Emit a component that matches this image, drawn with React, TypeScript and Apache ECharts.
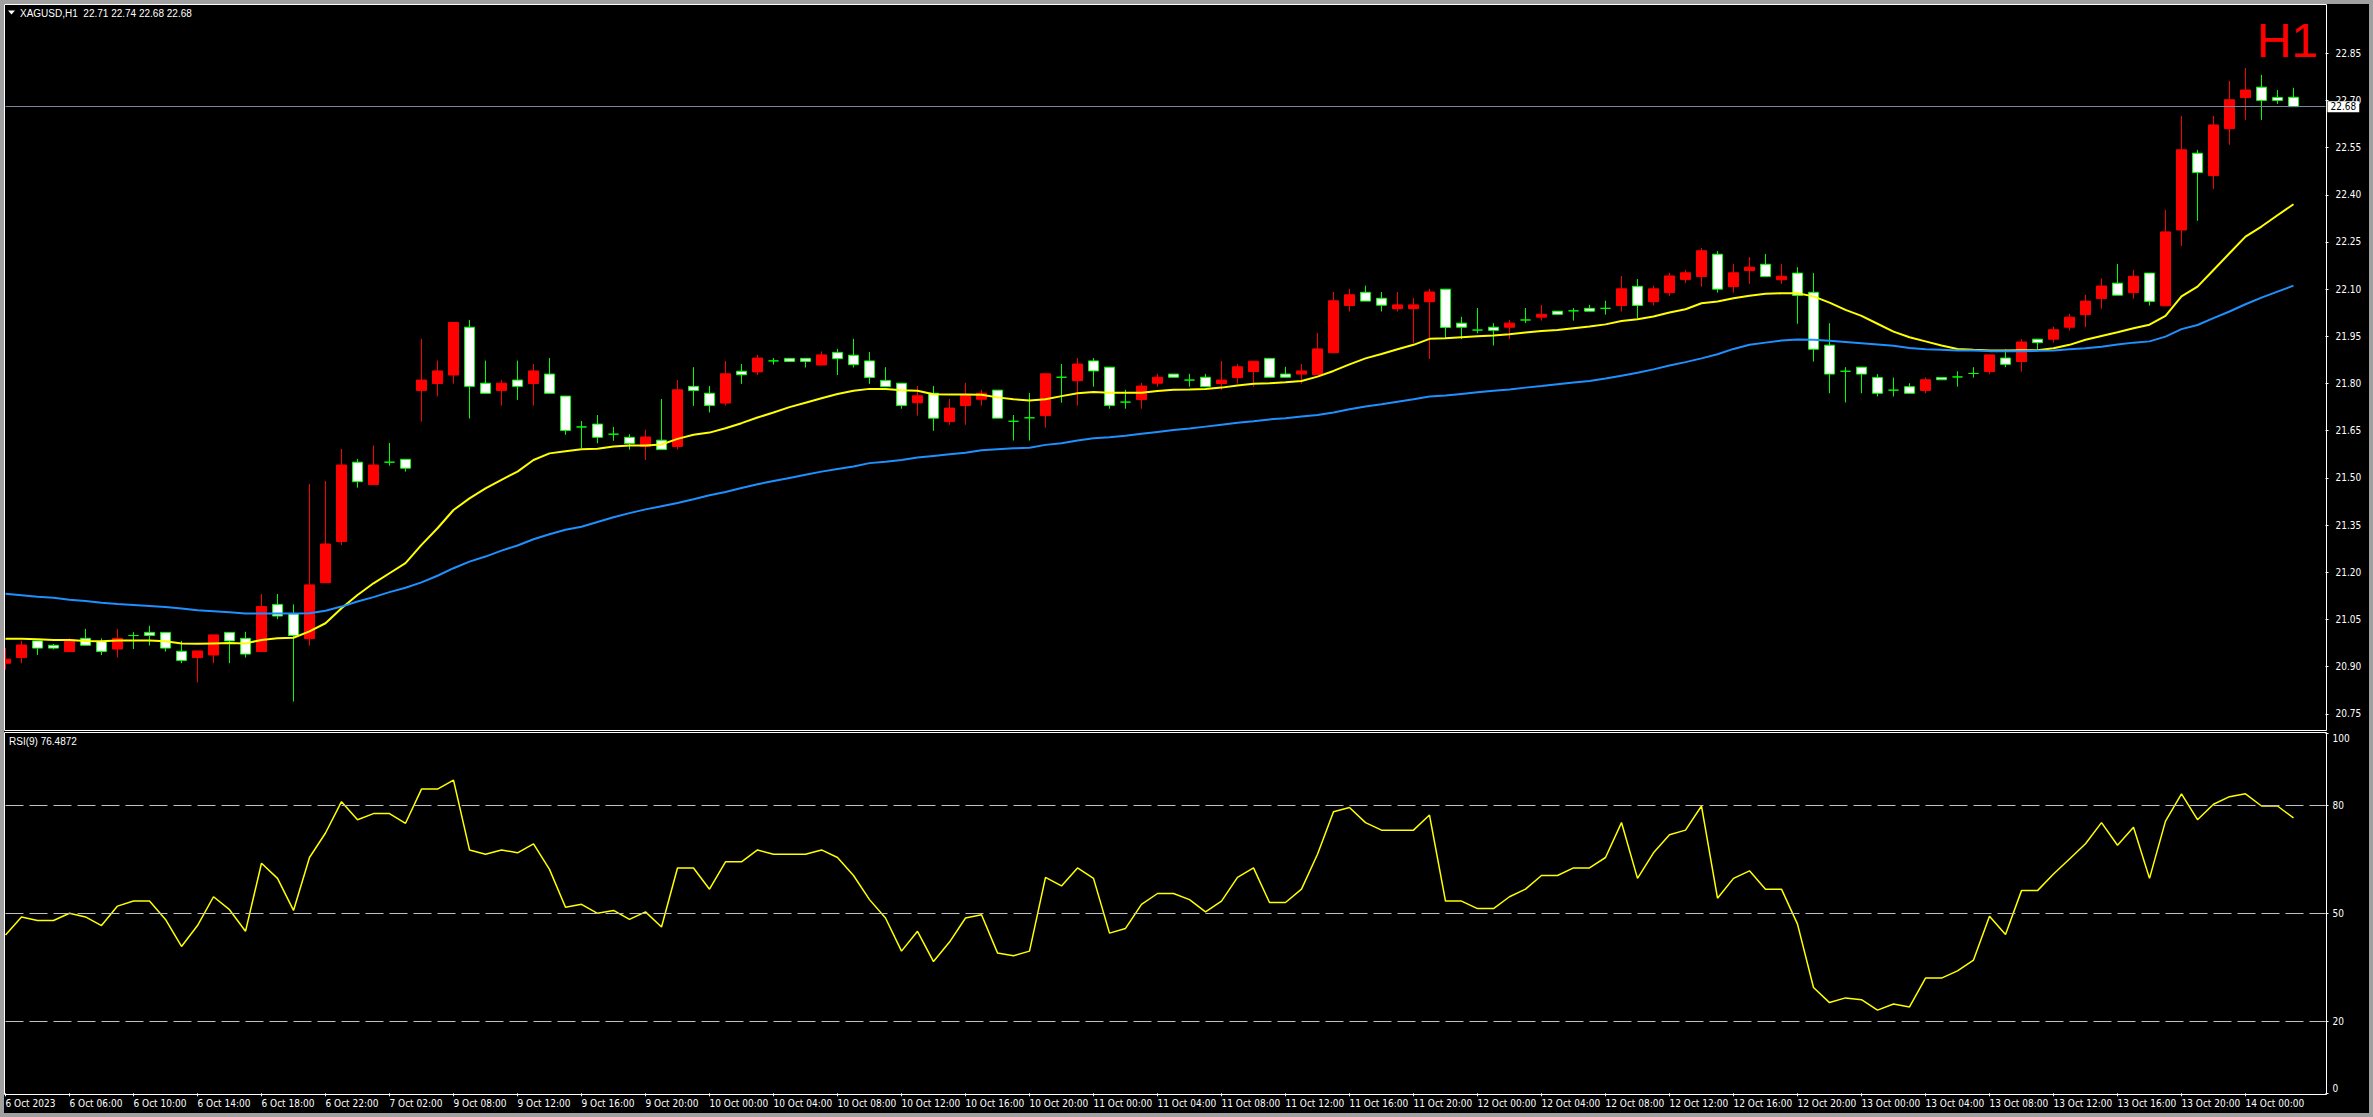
import React, { useEffect, useRef } from "react";
import * as echarts from "echarts";

// ---------- data ----------
const timeLabels = [
  "6 Oct 2023", "6 Oct 06:00", "6 Oct 10:00", "6 Oct 14:00", "6 Oct 18:00", "6 Oct 22:00",
  "7 Oct 02:00", "9 Oct 08:00", "9 Oct 12:00", "9 Oct 16:00", "9 Oct 20:00",
  "10 Oct 00:00", "10 Oct 04:00", "10 Oct 08:00", "10 Oct 12:00", "10 Oct 16:00", "10 Oct 20:00",
  "11 Oct 00:00", "11 Oct 04:00", "11 Oct 08:00", "11 Oct 12:00", "11 Oct 16:00", "11 Oct 20:00",
  "12 Oct 00:00", "12 Oct 04:00", "12 Oct 08:00", "12 Oct 12:00", "12 Oct 16:00", "12 Oct 20:00",
  "13 Oct 00:00", "13 Oct 04:00", "13 Oct 08:00", "13 Oct 12:00", "13 Oct 16:00", "13 Oct 20:00",
  "14 Oct 00:00",
];

const opens = [
  20.911, 20.929, 20.982, 20.968, 20.948, 20.990, 20.980, 20.956, 20.999, 21.009,
  21.009, 20.949, 20.929, 20.937, 21.009, 20.990, 20.948, 21.098, 21.068, 20.989,
  21.167, 21.298, 21.550, 21.479, 21.550, 21.559, 21.778, 21.800, 21.827, 21.979,
  21.801, 21.778, 21.811, 21.800, 21.830, 21.760, 21.662, 21.671, 21.639, 21.629,
  21.600, 21.620, 21.600, 21.791, 21.769, 21.738, 21.839, 21.837, 21.872, 21.880,
  21.880, 21.859, 21.899, 21.890, 21.872, 21.810, 21.801, 21.739, 21.769, 21.679,
  21.730, 21.750, 21.779, 21.680, 21.691, 21.698, 21.820, 21.809, 21.872, 21.852,
  21.741, 21.749, 21.801, 21.830, 21.811, 21.820, 21.800, 21.819, 21.838, 21.880,
  21.830, 21.830, 21.828, 21.898, 22.048, 22.090, 22.071, 22.038, 22.038, 22.060,
  22.100, 21.992, 21.970, 21.979, 21.979, 22.002, 22.011, 22.030, 22.031, 22.039,
  22.039, 22.048, 22.109, 22.060, 22.089, 22.131, 22.140, 22.211, 22.108, 22.159,
  22.179, 22.130, 22.151, 22.090, 21.922, 21.839, 21.852, 21.819, 21.779, 21.790,
  21.778, 21.819, 21.821, 21.832, 21.838, 21.881, 21.870, 21.941, 21.941, 21.979,
  22.019, 22.070, 22.119, 22.089, 22.151, 22.047, 22.288, 22.532, 22.461, 22.610,
  22.709, 22.742, 22.709, 22.71,
];

const highs = [
  20.959, 20.982, 20.982, 20.972, 20.990, 21.020, 20.990, 21.020, 21.010, 21.030,
  21.009, 20.982, 20.950, 21.001, 21.009, 21.011, 21.131, 21.131, 21.098, 21.481,
  21.490, 21.592, 21.560, 21.603, 21.611, 21.559, 21.942, 21.873, 21.994, 22.002,
  21.873, 21.811, 21.873, 21.862, 21.881, 21.760, 21.681, 21.700, 21.662, 21.639,
  21.653, 21.751, 21.811, 21.852, 21.792, 21.872, 21.862, 21.891, 21.881, 21.880,
  21.880, 21.902, 21.910, 21.942, 21.900, 21.852, 21.801, 21.792, 21.792, 21.751,
  21.802, 21.780, 21.779, 21.700, 21.770, 21.831, 21.862, 21.881, 21.881, 21.852,
  21.780, 21.802, 21.831, 21.830, 21.831, 21.831, 21.872, 21.862, 21.871, 21.880,
  21.853, 21.862, 21.961, 22.091, 22.101, 22.111, 22.091, 22.091, 22.072, 22.101,
  22.100, 22.012, 22.040, 21.992, 22.002, 22.040, 22.050, 22.030, 22.040, 22.050,
  22.063, 22.142, 22.132, 22.111, 22.152, 22.161, 22.231, 22.221, 22.180, 22.202,
  22.212, 22.180, 22.170, 22.151, 21.992, 21.852, 21.852, 21.830, 21.819, 21.801,
  21.819, 21.819, 21.839, 21.852, 21.891, 21.909, 21.941, 21.941, 21.981, 22.021,
  22.082, 22.134, 22.180, 22.161, 22.151, 22.352, 22.651, 22.543, 22.651, 22.762,
  22.803, 22.781, 22.733, 22.74,
];

const lows = [
  20.890, 20.911, 20.937, 20.955, 20.948, 20.968, 20.937, 20.929, 20.956, 20.967,
  20.948, 20.911, 20.850, 20.911, 20.911, 20.929, 20.948, 21.051, 20.789, 20.967,
  21.167, 21.287, 21.469, 21.479, 21.539, 21.520, 21.679, 21.759, 21.800, 21.689,
  21.769, 21.730, 21.748, 21.730, 21.769, 21.637, 21.594, 21.610, 21.618, 21.590,
  21.557, 21.590, 21.590, 21.729, 21.708, 21.730, 21.799, 21.827, 21.860, 21.870,
  21.851, 21.859, 21.827, 21.851, 21.799, 21.790, 21.720, 21.698, 21.650, 21.669,
  21.669, 21.730, 21.690, 21.619, 21.619, 21.660, 21.739, 21.730, 21.790, 21.720,
  21.720, 21.720, 21.790, 21.820, 21.790, 21.790, 21.780, 21.800, 21.790, 21.820,
  21.820, 21.800, 21.828, 21.898, 22.029, 22.062, 22.029, 22.029, 21.928, 21.878,
  21.944, 21.941, 21.960, 21.921, 21.941, 21.992, 22.000, 22.020, 22.000, 22.030,
  22.019, 22.029, 22.008, 22.048, 22.079, 22.119, 22.108, 22.089, 22.089, 22.117,
  22.140, 22.117, 21.990, 21.870, 21.769, 21.740, 21.769, 21.759, 21.759, 21.769,
  21.769, 21.812, 21.790, 21.819, 21.830, 21.852, 21.838, 21.907, 21.930, 21.968,
  21.979, 22.038, 22.081, 22.070, 22.048, 22.047, 22.237, 22.317, 22.419, 22.559,
  22.638, 22.638, 22.689, 22.68,
];

const closes = [
  20.924, 20.969, 20.959, 20.959, 20.985, 20.968, 20.948, 20.990, 20.999, 20.999,
  20.959, 20.920, 20.950, 21.001, 20.982, 20.940, 21.091, 21.061, 20.999, 21.160,
  21.290, 21.541, 21.488, 21.541, 21.550, 21.531, 21.811, 21.840, 21.994, 21.791,
  21.769, 21.801, 21.791, 21.840, 21.769, 21.651, 21.662, 21.629, 21.639, 21.609,
  21.630, 21.590, 21.780, 21.778, 21.730, 21.831, 21.828, 21.881, 21.872, 21.870,
  21.870, 21.891, 21.879, 21.860, 21.819, 21.790, 21.730, 21.761, 21.690, 21.722,
  21.763, 21.769, 21.690, 21.680, 21.691, 21.831, 21.820, 21.862, 21.840, 21.730,
  21.741, 21.792, 21.820, 21.820, 21.811, 21.790, 21.811, 21.853, 21.871, 21.820,
  21.820, 21.840, 21.910, 22.063, 22.082, 22.062, 22.049, 22.050, 22.050, 22.091,
  21.978, 21.979, 21.970, 21.969, 21.992, 22.002, 22.020, 22.020, 22.031, 22.030,
  22.039, 22.101, 22.048, 22.101, 22.142, 22.152, 22.222, 22.100, 22.152, 22.170,
  22.140, 22.141, 22.080, 21.909, 21.830, 21.839, 21.830, 21.769, 21.779, 21.769,
  21.812, 21.812, 21.821, 21.832, 21.891, 21.861, 21.932, 21.930, 21.971, 22.011,
  22.062, 22.110, 22.081, 22.141, 22.061, 22.282, 22.543, 22.471, 22.622, 22.702,
  22.733, 22.700, 22.700, 22.68,
];

const maFast = [
  20.989, 20.989, 20.987, 20.985, 20.985, 20.982, 20.981, 20.983, 20.983, 20.983,
  20.981, 20.974, 20.973, 20.974, 20.975, 20.974, 20.985, 20.990, 20.992, 21.012,
  21.038, 21.086, 21.128, 21.165, 21.197, 21.229, 21.287, 21.340, 21.398, 21.435,
  21.467, 21.494, 21.520, 21.557, 21.578, 21.585, 21.591, 21.593, 21.600, 21.603,
  21.603, 21.606, 21.624, 21.637, 21.644, 21.658, 21.674, 21.692, 21.708, 21.725,
  21.739, 21.753, 21.767, 21.777, 21.783, 21.783, 21.779, 21.777, 21.766, 21.765,
  21.765, 21.764, 21.756, 21.750, 21.746, 21.750, 21.760, 21.769, 21.773, 21.771,
  21.771, 21.771, 21.776, 21.780, 21.781, 21.783, 21.787, 21.794, 21.799, 21.801,
  21.804, 21.808, 21.822, 21.840, 21.861, 21.880, 21.894, 21.909, 21.923, 21.942,
  21.944, 21.947, 21.950, 21.953, 21.957, 21.962, 21.967, 21.970, 21.976, 21.981,
  21.988, 21.999, 22.004, 22.013, 22.026, 22.036, 22.055, 22.061, 22.071, 22.079,
  22.085, 22.087, 22.087, 22.077, 22.057, 22.034, 22.015, 21.990, 21.965, 21.947,
  21.934, 21.921, 21.910, 21.907, 21.905, 21.905, 21.906, 21.906, 21.912, 21.923,
  21.939, 21.951, 21.963, 21.976, 21.987, 22.015, 22.077, 22.108, 22.161, 22.214,
  22.267, 22.299, 22.335, 22.370,
];

const maSlow = [
  21.132, 21.127, 21.122, 21.119, 21.113, 21.109, 21.103, 21.099, 21.096, 21.093,
  21.090, 21.085, 21.079, 21.076, 21.073, 21.069, 21.069, 21.069, 21.069, 21.070,
  21.078, 21.091, 21.107, 21.121, 21.137, 21.151, 21.168, 21.189, 21.213, 21.234,
  21.250, 21.269, 21.285, 21.305, 21.321, 21.335, 21.345, 21.360, 21.375, 21.388,
  21.400, 21.410, 21.420, 21.432, 21.445, 21.455, 21.468, 21.480, 21.490, 21.500,
  21.510, 21.520, 21.528, 21.536, 21.547, 21.551, 21.557, 21.565, 21.570, 21.575,
  21.580, 21.588, 21.591, 21.594, 21.596, 21.605, 21.610, 21.619, 21.626, 21.629,
  21.634, 21.640, 21.646, 21.652, 21.657, 21.663, 21.669, 21.675, 21.680, 21.686,
  21.690, 21.695, 21.700, 21.708, 21.718, 21.727, 21.734, 21.742, 21.750, 21.759,
  21.762, 21.767, 21.772, 21.777, 21.781, 21.787, 21.792, 21.798, 21.803, 21.808,
  21.816, 21.825, 21.834, 21.845, 21.857, 21.868, 21.880, 21.893, 21.910, 21.923,
  21.930, 21.937, 21.940, 21.939, 21.936, 21.932, 21.928, 21.924, 21.920, 21.913,
  21.909, 21.907, 21.905, 21.905, 21.903, 21.903, 21.903, 21.904, 21.905, 21.909,
  21.912, 21.917, 21.924, 21.930, 21.934, 21.949, 21.973, 21.986, 22.008, 22.029,
  22.052, 22.073, 22.092, 22.111,
];

const rsi9 = [
  44, 49, 48, 48, 50, 49, 46.6, 52, 53.4, 53.4,
  48.3, 40.8, 46.6, 54.6, 51, 45, 63.9, 59.7, 50.8, 65.5,
  72.3, 81, 76, 77.7, 77.7, 75, 84.5, 84.5, 87, 67.6,
  66.4, 67.6, 66.8, 69.3, 62.2, 51.7, 52.5, 50, 50.8, 48.3,
  50.4, 46.2, 62.6, 62.6, 56.7, 64.3, 64.3, 67.6, 66.4, 66.4,
  66.4, 67.6, 65.5, 60.5, 53.8, 48.7, 39.5, 45, 36.6, 42,
  48.7, 49.6, 39, 38.2, 39.5, 60, 57.6, 62.6, 59.7, 44.5,
  45.8, 52.5, 55.5, 55.5, 53.8, 50.4, 53.4, 60, 62.6, 53,
  53, 56.7, 66.4, 78.2, 79.4, 75.2, 73.1, 73.1, 73.1, 77.3,
  53.4, 53.4, 51.3, 51.3, 54.6, 56.7, 60.5, 60.5, 62.6, 62.6,
  65.5, 75.2, 59.7, 66.8, 71.8, 73.1, 79.8, 54.2, 59.7, 61.8,
  56.7, 56.7, 47, 29.4, 25.2, 26.5, 26, 23.1, 24.8, 24,
  32, 32, 34, 37, 49.2, 44.1, 56.3, 56.3, 60.9, 65.1,
  69.3, 75.2, 68.9, 73.9, 59.7, 75.6, 83.2, 76, 80.3, 82.4,
  83.2, 79.8, 79.8, 76.4872,
];

const priceTicks = [
  20.75, 20.9, 21.05, 21.2, 21.35, 21.5, 21.65, 21.8, 21.95, 22.1, 22.25, 22.4, 22.55, 22.7, 22.85,
];
const rsiTicks = [0, 20, 50, 80, 100];
const rsiLevels = [20, 50, 80];

// ---------- layout ----------
const W = 2373;
const H = 1117;
const SLOTS = 146; // bars + empty chart shift on the right
const AXIS_FONT = "'Liberation Sans Narrow', 'DejaVu Sans Condensed', 'Liberation Sans', sans-serif";
const TEXT_FONT = "'Liberation Sans', Arial, sans-serif";

function buildOption() {
  const cats = Array.from({ length: SLOTS }, (_, i) => String(i));
  const candleData = opens.map((o, i) => [o, closes[i], lows[i], highs[i]]);
  const last = opens.length - 1;
  const header = `XAGUSD,H1  ${opens[last].toFixed(2)} ${highs[last].toFixed(2)} ${lows[last].toFixed(2)} ${closes[last].toFixed(2)}`;
  const showEvery4 = (i: number) => i % 4 === 0 && i / 4 < timeLabels.length;

  return {
    animation: false,
    backgroundColor: "#000000",
    grid: [
      { left: 5.5, right: W - 2325.5, top: 6, height: 723.6, show: false },
      { left: 5.5, right: W - 2325.5, top: 733.3, height: 360, show: false },
    ],
    xAxis: [
      { type: "category", gridIndex: 0, data: cats, boundaryGap: false, show: false },
      {
        type: "category",
        gridIndex: 1,
        data: cats,
        boundaryGap: false,
        axisLine: { show: false },
        splitLine: { show: false },
        axisTick: { show: true, interval: showEvery4, length: 3, lineStyle: { color: "#ffffff" } },
        axisLabel: {
          interval: showEvery4,
          formatter: (_v: string, i: number) => timeLabels[i / 4] ?? "",
          align: "left",
          color: "#ffffff",
          fontSize: 10,
          fontFamily: AXIS_FONT,
          margin: 5,
        },
      },
    ],
    yAxis: [
      {
        type: "value",
        gridIndex: 0,
        position: "right",
        min: 20.7,
        max: 23.0,
        scale: true,
        axisLine: { show: false },
        splitLine: { show: false },
        axisTick: { show: true, customValues: priceTicks, length: 3, lineStyle: { color: "#ffffff" } },
        axisLabel: {
          customValues: priceTicks,
          formatter: (v: number) => v.toFixed(2),
          color: "#ffffff",
          fontSize: 10,
          fontFamily: AXIS_FONT,
          margin: 10,
        },
      },
      {
        type: "value",
        gridIndex: 1,
        position: "right",
        min: 0,
        max: 100,
        axisLine: { show: false },
        splitLine: { show: false },
        axisTick: { show: true, customValues: rsiTicks, length: 3, lineStyle: { color: "#ffffff" } },
        axisLabel: {
          customValues: rsiTicks,
          color: "#ffffff",
          fontSize: 10,
          fontFamily: AXIS_FONT,
          margin: 7,
          verticalAlignMinLabel: "bottom",
          verticalAlignMaxLabel: "top",
        },
      },
    ],
    series: [
      {
        type: "candlestick",
        xAxisIndex: 0,
        yAxisIndex: 0,
        data: candleData,
        barWidth: 10,
        clip: true,
        itemStyle: {
          color: "#ff0000",
          color0: "#ffffff",
          borderColor: "#ff0000",
          borderColor0: "#00ff00",
          borderColorDoji: "#00ff00",
          borderWidth: 1,
        },
        markLine: {
          silent: true,
          symbol: ["none", "none"],
          lineStyle: { color: "#778899", width: 1, type: "solid" },
          label: {
            show: true,
            position: "end",
            formatter: () => closes[last].toFixed(2),
            backgroundColor: "#ffffff",
            color: "#000000",
            fontSize: 10,
            fontFamily: AXIS_FONT,
            padding: [1, 3, 0, 3],
            distance: 2,
          },
          data: [{ yAxis: closes[last] }],
        },
      },
      {
        type: "line",
        xAxisIndex: 0,
        yAxisIndex: 0,
        data: maFast,
        showSymbol: false,
        symbol: "none",
        lineStyle: { color: "#ffff00", width: 2 },
        itemStyle: { color: "#ffff00" },
      },
      {
        type: "line",
        xAxisIndex: 0,
        yAxisIndex: 0,
        data: maSlow,
        showSymbol: false,
        symbol: "none",
        lineStyle: { color: "#1e90ff", width: 2 },
        itemStyle: { color: "#1e90ff" },
      },
      {
        type: "line",
        xAxisIndex: 1,
        yAxisIndex: 1,
        data: rsi9,
        showSymbol: false,
        symbol: "none",
        lineStyle: { color: "#ffff00", width: 1.5 },
        itemStyle: { color: "#ffff00" },
        markLine: {
          silent: true,
          symbol: ["none", "none"],
          label: { show: false },
          lineStyle: { color: "#c0c0c0", width: 1, type: [18, 6] },
          data: rsiLevels.map((v) => ({ yAxis: v })),
        },
      },
    ],
    graphic: [
      {
        type: "rect",
        silent: true,
        z: 50,
        shape: { x: 2, y: 2, width: W - 4, height: H - 4 },
        style: { fill: "none", stroke: "#a0a0a0", lineWidth: 4 },
      },
      {
        type: "rect",
        silent: true,
        z: 50,
        shape: { x: 4.5, y: 4.5, width: 2322, height: 726 },
        style: { fill: "none", stroke: "#ffffff", lineWidth: 1 },
      },
      {
        type: "rect",
        silent: true,
        z: 50,
        shape: { x: 4.5, y: 732.5, width: 2322, height: 362 },
        style: { fill: "none", stroke: "#ffffff", lineWidth: 1 },
      },
      {
        type: "polygon",
        silent: true,
        z: 50,
        shape: { points: [[8, 10.5], [15, 10.5], [11.5, 14.5]] },
        style: { fill: "#ffffff" },
      },
      {
        type: "text",
        silent: true,
        z: 50,
        x: 20,
        y: 13,
        style: { text: header, fill: "#ffffff", fontSize: 10, fontFamily: TEXT_FONT, verticalAlign: "middle" },
      },
      {
        type: "text",
        silent: true,
        z: 50,
        x: 9,
        y: 741,
        style: {
          text: `RSI(9) ${rsi9[last].toFixed(4)}`,
          fill: "#ffffff",
          fontSize: 10,
          fontFamily: TEXT_FONT,
          verticalAlign: "middle",
        },
      },
      {
        type: "text",
        silent: true,
        z: 50,
        x: 2318,
        y: 40,
        style: {
          text: "H1",
          fill: "#ff0000",
          fontSize: 48,
          fontFamily: TEXT_FONT,
          align: "right",
          verticalAlign: "middle",
        },
      },
    ],
  };
}

export default function App() {
  const ref = useRef<HTMLDivElement>(null);
  useEffect(() => {
    if (!ref.current) return;
    const chart = echarts.init(ref.current, null, { renderer: "svg", width: W, height: H });
    chart.setOption(buildOption() as any);
    return () => {
      chart.dispose();
    };
  }, []);
  return (
    <div
      ref={ref}
      style={{ position: "fixed", left: 0, top: 0, width: W, height: H, background: "#000000" }}
    />
  );
}
